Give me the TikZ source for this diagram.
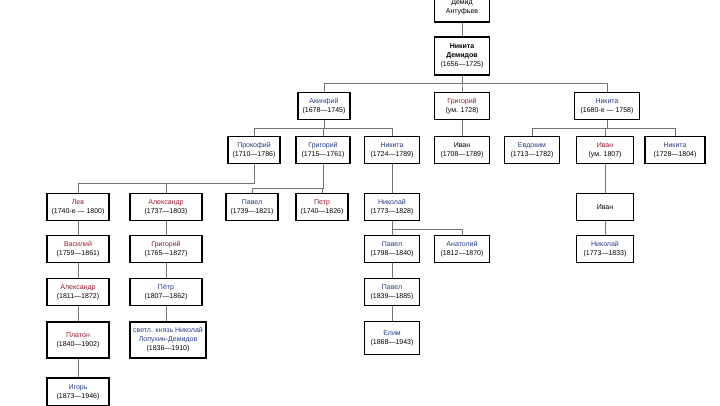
\documentclass[tikz,border=0pt]{standalone}
\usepackage{fontspec}
\setmainfont{Liberation Sans}
\usetikzlibrary{positioning}

\definecolor{famred}{RGB}{150,28,48}
\definecolor{famblue}{RGB}{40,62,135}

\tikzset{
  person/.style={draw=black, line width=1.5pt, fill=white, align=center,
    font=\fontsize{7}{9}\selectfont, inner sep=1.5pt,
    minimum width=55pt, minimum height=27pt},
  link/.style={draw=black!55, line width=0.7pt},
}

\begin{document}
\begin{tikzpicture}[x=1pt,y=-1pt]
  \useasboundingbox (0,0) rectangle (720,405);
  \clip (0,0) rectangle (720,405);

  % generations 0-2
  \node[person, minimum height=30pt] (demid) at (462,7) {Демид\\Антуфьев};
  \node[person, minimum height=38pt, font=\fontsize{7}{9}\selectfont\bfseries] (nikita) at (462,56)
    {Никита\\Демидов\\{\mdseries(1656—1725)}};
  \node[person, minimum width=52pt] (akinfiy) at (324,106) {\textcolor{famblue}{Акинфий}\\(1678—1745)};
  \node[person] (grig1) at (462,106) {\textcolor{famred}{Григорий}\\(ум. 1728)};
  \node[person, minimum width=65pt] (nikita2) at (607,106) {\textcolor{famblue}{Никита}\\(1680-е — 1758)};

  % generation 3
  \node[person, minimum width=52pt] (prokofiy) at (254,150) {\textcolor{famblue}{Прокофий}\\(1710—1786)};
  \node[person, minimum width=54pt] (grig2) at (323,150) {\textcolor{famblue}{Григорий}\\(1715—1761)};
  \node[person] (nikita3) at (392,150) {\textcolor{famblue}{Никита}\\(1724—1789)};
  \node[person] (ivan1) at (462,150) {Иван\\(1708—1789)};
  \node[person] (evdokim) at (532,150) {\textcolor{famblue}{Евдоким}\\(1713—1782)};
  \node[person, minimum width=57pt] (ivan2) at (605,150) {\textcolor{famred}{Иван}\\(ум. 1807)};
  \node[person, minimum width=60pt] (nikita4) at (675,150) {\textcolor{famblue}{Никита}\\(1728—1804)};

  % generation 4
  \node[person, minimum width=62pt] (lev) at (78,207) {\textcolor{famred}{Лев}\\(1740-е — 1800)};
  \node[person, minimum width=72pt] (alex1) at (166,207) {\textcolor{famred}{Александр}\\(1737—1803)};
  \node[person, minimum width=52pt] (pavel1) at (252,207) {\textcolor{famblue}{Павел}\\(1739—1821)};
  \node[person, minimum width=52pt] (petr1) at (322,207) {\textcolor{famred}{Петр}\\(1740—1826)};
  \node[person] (nikolay1) at (392,207) {\textcolor{famblue}{Николай}\\(1773—1828)};
  \node[person, minimum width=57pt] (ivan3) at (605,207) {Иван};

  % generation 5
  \node[person, minimum width=62pt] (vasiliy) at (78,249) {\textcolor{famred}{Василий}\\(1759—1861)};
  \node[person, minimum width=72pt] (grig3) at (166,249) {\textcolor{famred}{Григорий}\\(1765—1827)};
  \node[person] (pavel2) at (392,249) {\textcolor{famblue}{Павел}\\(1798—1840)};
  \node[person] (anatoliy) at (462,249) {\textcolor{famblue}{Анатолий}\\(1812—1870)};
  \node[person, minimum width=57pt] (nikolay2) at (605,249) {\textcolor{famblue}{Николай}\\(1773—1833)};

  % generation 6
  \node[person, minimum width=62pt] (alex2) at (78,292) {\textcolor{famred}{Александр}\\(1811—1872)};
  \node[person, minimum width=72pt] (petr2) at (166,292) {\textcolor{famblue}{Пётр}\\(1807—1862)};
  \node[person] (pavel3) at (392,292) {\textcolor{famblue}{Павел}\\(1839—1885)};

  % generation 7-8
  \node[person, minimum width=62pt, minimum height=36pt] (platon) at (78,340) {\textcolor{famred}{Платон}\\(1840—1902)};
  \node[person, minimum width=76pt, minimum height=36pt] (lopukhin) at (168,340)
    {\textcolor{famblue}{светл. князь Николай}\\\textcolor{famblue}{Лопухин-Демидов}\\(1836—1910)};
  \node[person, minimum height=33pt] (elim) at (392,338) {\textcolor{famblue}{Елим}\\(1868—1943)};
  \node[person, minimum width=62pt, minimum height=28pt] (igor) at (78,392) {\textcolor{famblue}{Игорь}\\(1873—1946)};

  % connectors
  \draw[link] (demid) -- (nikita);
  \foreach \c in {akinfiy,grig1,nikita2}
    \draw[link] (nikita.south) -- ++(0,8) -| (\c.north);
  \foreach \c in {prokofiy,grig2,nikita3}
    \draw[link] (akinfiy.south) -- ++(0,8) -| (\c.north);
  \draw[link] (grig1) -- (ivan1);
  \foreach \c in {evdokim,ivan2,nikita4}
    \draw[link] (nikita2.south) -- ++(0,8) -| (\c.north);
  \foreach \c in {lev,alex1}
    \draw[link] (prokofiy.south) -- ++(0,19) -| (\c.north);
  \foreach \c in {pavel1,petr1}
    \draw[link] (grig2.south) -- ++(0,24) -| (\c.north);
  \draw[link] (nikita3) -- (nikolay1);
  \draw[link] (ivan2) -- (ivan3);
  \draw[link] (ivan3) -- (nikolay2);
  \draw[link] (nikolay1) -- (pavel2);
  \draw[link] (nikolay1.south) -- ++(0,8) -| (anatoliy.north);
  \draw[link] (pavel2) -- (pavel3);
  \draw[link] (pavel3) -- (elim);
  \draw[link] (lev) -- (vasiliy);
  \draw[link] (vasiliy) -- (alex2);
  \draw[link] (alex2) -- (platon);
  \draw[link] (platon) -- (igor);
  \draw[link] (alex1) -- (grig3);
  \draw[link] (grig3) -- (petr2);
  \draw[link] (petr2.south) -- (petr2.south |- lopukhin.north);
\end{tikzpicture}
\end{document}
